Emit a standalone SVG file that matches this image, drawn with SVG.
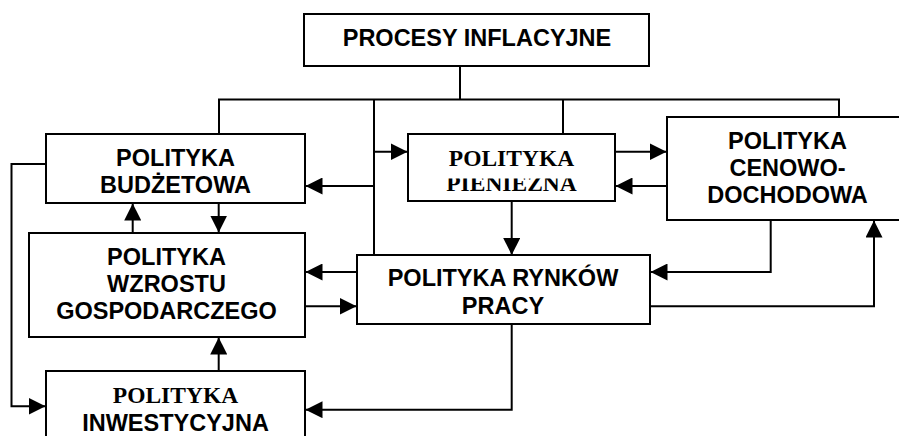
<svg xmlns="http://www.w3.org/2000/svg" width="899" height="436" viewBox="0 0 899 436">
<style>
.box{fill:#fff;stroke:#000;stroke-width:2}
.ln{fill:none;stroke:#000;stroke-width:2}
.ar{fill:none;stroke:#000;stroke-width:2;marker-end:url(#ah)}
.s{font-family:"Liberation Sans",Arial,sans-serif;font-weight:bold;font-size:23.5px;text-anchor:middle;fill:#000}
.r{font-family:"Liberation Serif","Times New Roman",serif;font-weight:bold;font-size:23.5px;text-anchor:middle;fill:#000}
</style>
<defs>
<marker id="ah" markerUnits="userSpaceOnUse" markerWidth="17" markerHeight="17" refX="17" refY="8.5" orient="auto" viewBox="0 0 17 17">
<path d="M0,0 L17,8.5 L0,17 Z" fill="#000"/>
</marker>
<clipPath id="pclip"><rect x="400" y="178.5" width="230" height="30"/></clipPath>
</defs>
<rect width="899" height="436" fill="#fff"/>
<g id="connectors">
<path class="ln" d="M460,66 V99.5"/>
<path class="ln" d="M219,134 V99.5 H839 V117"/>
<path class="ln" d="M374,99.5 V255"/>
<path class="ln" d="M563,99.5 V134"/>
<path class="ar" d="M374,151.7 H407.5"/>
<path class="ar" d="M374,186 H305.5"/>
<path class="ar" d="M615,151.7 H666.5"/>
<path class="ar" d="M667,186 H615.5"/>
<path class="ar" d="M511.7,201 V255"/>
<path class="ar" d="M770.7,220 V272 H650.5"/>
<path class="ar" d="M650,306.3 H874 V220.5"/>
<path class="ar" d="M511.7,324 V409.7 H305.5"/>
<path class="ar" d="M357,272 H305.5"/>
<path class="ar" d="M305,306.3 H356.5"/>
<path class="ar" d="M132.7,233 V203.5"/>
<path class="ar" d="M218.7,203 V232.5"/>
<path class="ar" d="M218.7,371 V337.5"/>
<path class="ar" d="M46,164 H11.5 V406.3 H45.5"/>
</g>
<g id="procesy">
<rect class="box" x="304" y="14" width="345" height="52"/>
<text class="s" x="477" y="45.7">PROCESY INFLACYJNE</text>
</g>
<g id="budzetowa">
<rect class="box" x="46" y="134" width="259" height="69"/>
<text class="s" x="175.5" y="165.7">POLITYKA</text>
<text class="s" x="175.5" y="193.3">BUDŻETOWA</text>
</g>
<g id="pieniezna">
<rect class="box" x="408" y="134" width="207" height="67"/>
<text class="r" x="511.5" y="165.7">POLITYKA</text>
<text class="r" x="511.5" y="190.7" clip-path="url(#pclip)">PIENIEŻNA</text>
</g>
<g id="cenowo">
<rect class="box" x="667" y="117" width="240" height="103"/>
<text class="s" x="787.5" y="149.3">POLITYKA</text>
<text class="s" x="787.5" y="175.5">CENOWO-</text>
<text class="s" x="787.5" y="202.7">DOCHODOWA</text>
</g>
<g id="wzrostu">
<rect class="box" x="29" y="233" width="276" height="104"/>
<text class="s" x="166.5" y="265.3">POLITYKA</text>
<text class="s" x="166.5" y="292">WZROSTU</text>
<text class="s" x="166.5" y="319">GOSPODARCZEGO</text>
</g>
<g id="rynkow">
<rect class="box" x="357" y="255" width="293" height="69"/>
<text class="s" x="503" y="286.3">POLITYKA RYNKÓW</text>
<text class="s" x="503" y="313.7">PRACY</text>
</g>
<g id="inwestycyjna">
<rect class="box" x="46" y="371" width="259" height="80"/>
<text class="r" x="175.5" y="402.7">POLITYKA</text>
<text class="s" x="175.5" y="431">INWESTYCYJNA</text>
</g>
</svg>
